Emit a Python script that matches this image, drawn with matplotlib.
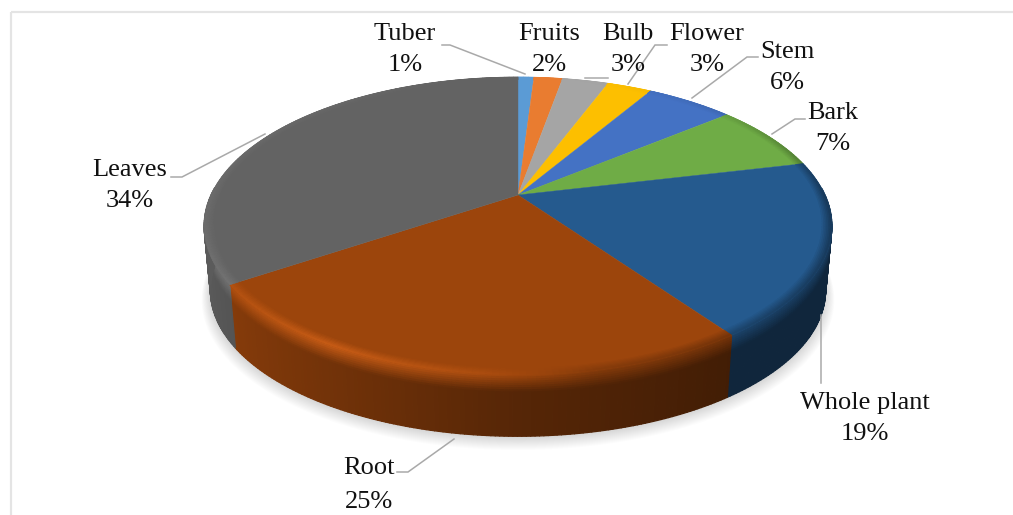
import numpy as np
import matplotlib
matplotlib.use("Agg")
import matplotlib.pyplot as plt
from matplotlib.collections import PolyCollection
from matplotlib.colors import to_rgb

categories = ["Tuber", "Fruits", "Bulb", "Flower", "Stem", "Bark", "Whole plant", "Root", "Leaves"]
values = [1.0, 1.8, 2.9, 2.8, 5.5, 7.3, 18.9, 25.4, 34.4]
percent_labels = ["1%", "2%", "3%", "3%", "6%", "7%", "19%", "25%", "34%"]
colors = ["#5b9bd5", "#e97c30", "#a5a5a5", "#fdbf00", "#4472c4", "#6fac46",
          "#255a8e", "#9c450c", "#636363"]

label_pos = {"Tuber": (405, 49.5), "Fruits": (549, 49.5), "Bulb": (628, 49.5), "Flower": (707, 49.5),
             "Stem": (787, 67.5), "Bark": (833, 128.5), "Whole plant": (865, 418.5),
             "Root": (369, 485), "Leaves": (130, 185.5)}
leaders = [[(442, 45), (450, 45), (525, 74)],
           [(585, 78), (608, 78)],
           [(667, 45), (655, 45), (628, 84)],
           [(758, 57), (747, 57), (692, 98)],
           [(805, 119), (795, 119), (772, 134)],
           [(171, 177), (182, 177), (265, 134)],
           [(397, 472), (408, 472), (454, 439)],
           [(821, 315), (821, 383)]]

# projected pie geometry (pixels)
CX, CY = 518, 195
K = 0.2078
A = 142.5
B = 307
DEPTH = 65
BASE = 0.98


def project(theta, r=1.0, t=0.0):
    """theta clockwise from top; r radial fraction; t 0=top face, 1=base."""
    u, v = r * np.sin(theta), r * np.cos(theta)
    w = 1 + K * v
    s = 1 - (1 - BASE) * t
    return CX + s * B * u / w, CY - s * A * v / w + DEPTH * t


def mix(c, d, f):
    c, d = np.array(c), np.array(d)
    return np.clip(c * (1 - f) + d * f, 0, 1)


def rim_colour(base, am, frac):
    """Bevel colour at the rim; frac 0 = on the face, 1 = at the outer edge."""
    lit = np.sin(am)
    g = np.interp(lit, [-1, -0.5, -0.1, 0.2, 1], [0.25, 0.9, 0.35, -0.35, -0.9])
    g *= np.interp(np.cos(am), [-1, 0, 0.5, 1], [1, 1, 0.4, 0])
    if g >= 0:
        return mix(base, np.minimum(base * 1.25 + 0.03, 1), frac * g)
    return mix(base, base * 0.6, -frac * g)


fig = plt.figure(figsize=(10.13, 5.15), dpi=100)
ax = fig.add_axes([0, 0, 1, 1])
ax.set_xlim(0, 1013)
ax.set_ylim(515, 0)
ax.axis("off")

# page frame
ax.plot([11, 11], [515, 12], color="#e4e4e4", lw=1.6, solid_capstyle="butt")
ax.plot([11, 1013], [12, 12], color="#e4e4e4", lw=1.6, solid_capstyle="butt")

edges = np.cumsum([0] + values) / sum(values) * 2 * np.pi

# soft shadow under the base
th = np.linspace(0, 2 * np.pi, 361)
for i in range(14):
    sx, sy = project(th, 1.0, 1.0)
    grow = 1 + 0.0022 * i
    xs = CX + (sx - CX) * grow
    ys = CY + 45 + (sy - CY - 45) * grow + 1 + i * 0.55
    ax.fill(xs, ys, color="#000000", alpha=0.011, lw=0, zorder=1)

# side wall
ts = list(np.linspace(0, 0.28, 9)) + [1.0]
polys, fcs = [], []
for k, col in enumerate(colors):
    base = np.array(to_rgb(col))
    n = max(2, int(np.degrees(edges[k + 1] - edges[k]) * 1.5))
    angs = np.linspace(edges[k], edges[k + 1], n + 1)
    for a0, a1 in zip(angs[:-1], angs[1:]):
        am = (a0 + a1) / 2
        if np.cos(am) > 0.05:
            continue
        shade = np.interp(np.sin(am), [-1, -0.75, 0.0, 0.6, 1], [0.92, 0.82, 0.55, 0.42, 0.42])
        wall = base * shade
        top = rim_colour(base, am, 1.0)
        for t0, t1 in zip(ts[:-1], ts[1:]):
            x0, y0 = project(a0, 1, t0)
            x1, y1 = project(a1, 1, t0)
            x2, y2 = project(a1, 1, t1)
            x3, y3 = project(a0, 1, t1)
            tm = (t0 + t1) / 2
            polys.append([(x0, y0), (x1, y1), (x2, y2), (x3, y3)])
            fcs.append(mix(top, wall, np.clip(tm / 0.28, 0, 1)))
ax.add_collection(PolyCollection(polys, facecolors=fcs, edgecolors=fcs, linewidths=0.9, zorder=2))

# top faces
for k, col in enumerate(colors):
    angs = np.linspace(edges[k], edges[k + 1], 200)
    xs, ys = project(angs)
    ax.fill(np.r_[CX, xs], np.r_[CY, ys], color=col, lw=0.3, zorder=3)

# bevel along the rim of the top face
rs = np.linspace(0.97, 1.0, 7)
polys, fcs = [], []
for k, col in enumerate(colors):
    base = np.array(to_rgb(col))
    n = max(2, int(np.degrees(edges[k + 1] - edges[k])))
    angs = np.linspace(edges[k], edges[k + 1], n + 1)
    for a0, a1 in zip(angs[:-1], angs[1:]):
        am = (a0 + a1) / 2
        for j, (r0, r1) in enumerate(zip(rs[:-1], rs[1:])):
            c = rim_colour(base, am, (j + 1) / (len(rs) - 1))
            polys.append([project(a0, r0), project(a1, r0), project(a1, r1), project(a0, r1)])
            fcs.append(c)
ax.add_collection(PolyCollection(polys, facecolors=fcs, edgecolors=fcs, linewidths=0.5, zorder=4))

# leader lines
for line in leaders:
    xs, ys = zip(*line)
    ax.plot(xs, ys, color="#a9a9a9", lw=1.1, zorder=5, solid_joinstyle="miter")

# labels
for name, pct in zip(categories, percent_labels):
    x, y = label_pos[name]
    ls = 1.66 if name == "Root" else 1.56
    ax.text(x, y, f"{name}\n{pct}", ha="center", va="center", ma="center",
            family="Liberation Serif", fontsize=19, color="#111111",
            linespacing=ls, zorder=6)

fig.savefig("out.png", dpi=100, facecolor="white")
